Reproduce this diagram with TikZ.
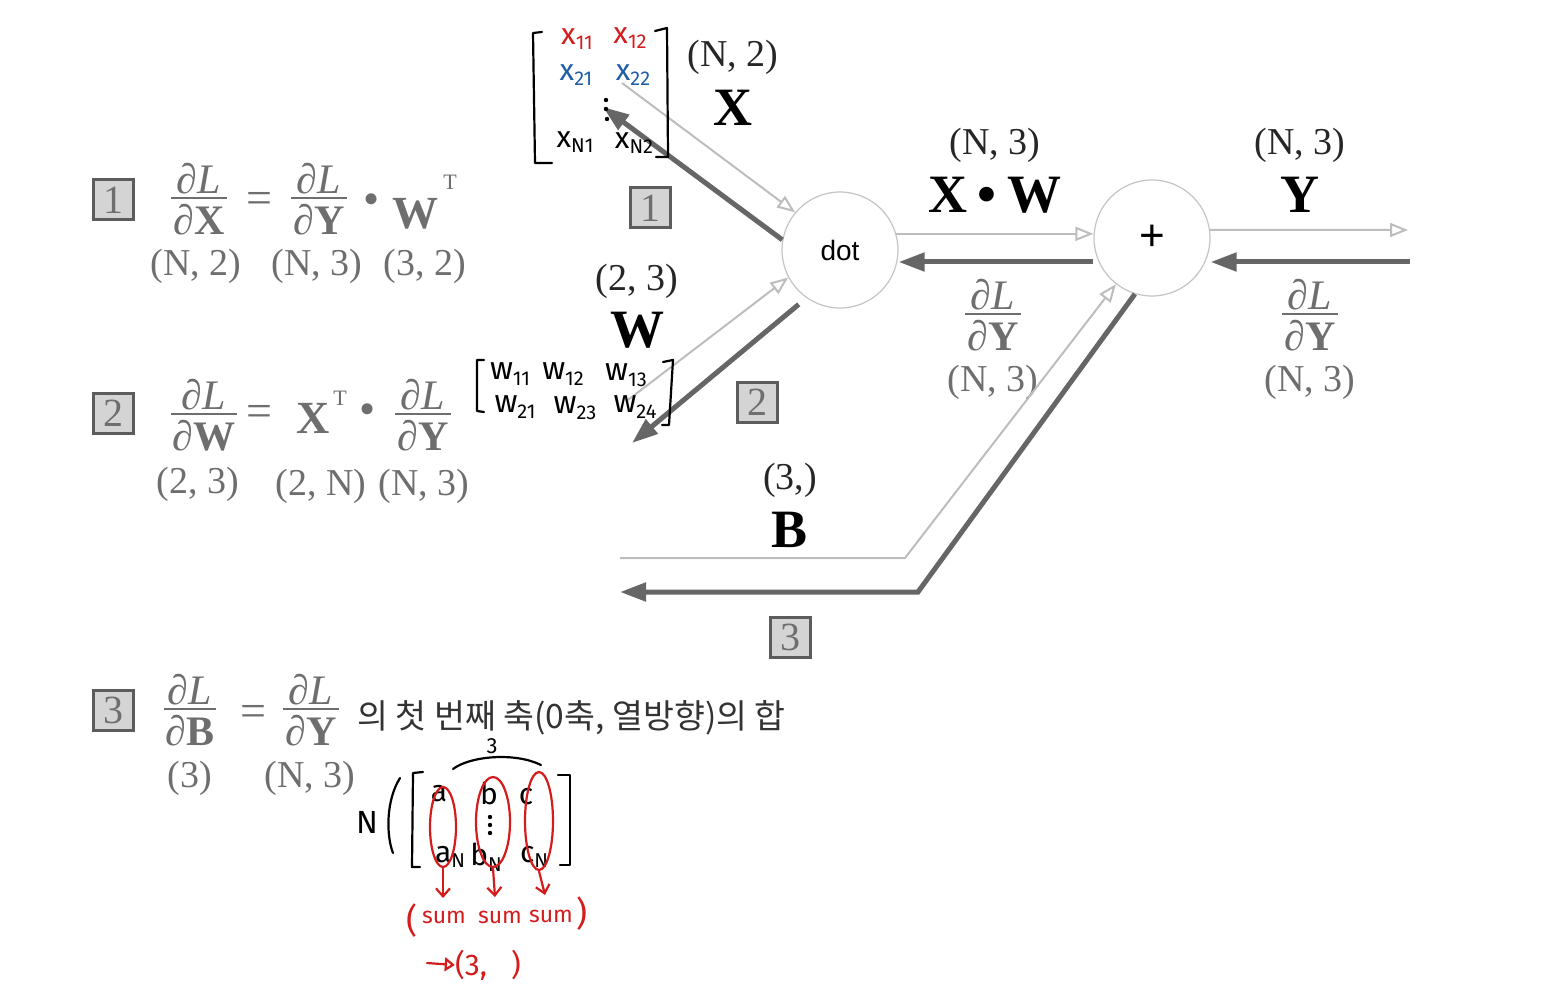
\documentclass[tikz,border=0pt]{standalone}
\usepackage{fontspec}
\setmainfont{Liberation Serif}
\newfontfamily\kr{Noto Sans CJK KR}
\newfontfamily\hand{Fira Sans}
\newfontfamily\sansf{Liberation Sans}
\usetikzlibrary{arrows.meta,shapes.geometric,calc}
\definecolor{eqgray}{HTML}{6E6E6E}
\definecolor{fwdgray}{HTML}{BDBDBD}
\definecolor{bwdgray}{HTML}{666666}
\definecolor{circgray}{HTML}{C4C4C4}
\definecolor{boxfill}{HTML}{D4D4D4}
\definecolor{boxline}{HTML}{5C5C5C}
\definecolor{hred}{HTML}{D41C1C}
\definecolor{hblue}{HTML}{1F5DA6}
\setlength\arrayrulewidth{1.2pt}
\newcommand\frc[2]{\begin{tabular}{@{\hspace{1pt}}c@{\hspace{1pt}}}#1\\[-6pt]\hline #2\end{tabular}}
\newcommand\hsub[3]{#1\raisebox{-0.35ex}{\fontsize{#3}{#3}\selectfont #2}}
\begin{document}
\begin{tikzpicture}[x=0.5pt,y=-0.5pt,
  fwd/.style={draw=fwdgray, line width=1pt, -{Triangle[open, length=9pt, width=7pt, fill=white]}},
  bwd/.style={draw=bwdgray, line width=2.5pt, -{Triangle[length=13pt, width=9pt]}},
  gnode/.style={circle, draw=circgray, line width=0.6pt, minimum size=58pt, inner sep=0pt, fill=white},
  numbox/.style={draw=boxline, line width=1.5pt, fill=boxfill, minimum size=20pt, inner sep=0pt, text=eqgray, font=\fontsize{20}{20}\selectfont},
  lab/.style={font=\fontsize{19}{23}\selectfont, text=black!85},
  glab/.style={font=\fontsize{19}{23}\selectfont, text=eqgray},
  big/.style={font=\bfseries\fontsize{27}{32}\selectfont, text=black, inner sep=0pt},
  eqf/.style={font=\fontsize{21}{25}\selectfont, text=eqgray, inner sep=0pt},
  eqt/.style={font=\fontsize{23}{25}\selectfont, text=eqgray, inner sep=0pt},
  eqsup/.style={font=\fontsize{11}{12}\selectfont, text=eqgray, inner sep=0pt},
  eqlab/.style={font=\fontsize{19}{23}\selectfont, text=eqgray, inner sep=0pt},
  korean/.style={font=\kr\fontsize{16.8}{19}\selectfont, text=black!80, inner sep=0pt},
  hw/.style={line width=1.1pt, line cap=round, line join=round},
  hx/.style={font=\hand\fontsize{15}{17}\selectfont, inner sep=0pt},
  hwx/.style={font=\hand\fontsize{16}{18}\selectfont, inner sep=0pt},
  hred/.style={font=\hand\fontsize{11.5}{14}\selectfont, text=hred, inner sep=0pt},
  colring/.style={ellipse, draw=hred, line width=1.1pt, inner sep=0pt},
  redarrow/.style={hw, draw=hred, -{Straight Barb[length=4pt, width=7pt]}}
]
\useasboundingbox (0,0) rectangle (1548,1000);

% ---------------- graph nodes ----------------
\node[gnode] (dot) at (840,250) {\sansf\fontsize{14}{16}\selectfont dot};
\node[gnode] (plus) at (1152,238) {\sansf\fontsize{22}{24}\selectfont +};

% labels
\node[lab] (lN2) at (733,57) {(N, 2)};
\node[big] (lX) at (733,108) {X};
\node[lab] (lN3a) at (995,145) {(N, 3)};
\node[big] (lXW) at (995,195) {X\hspace{0.2em}\textbullet\hspace{0.2em}W};
\node[lab] (lN3b) at (1300,145) {(N, 3)};
\node[big] (lY) at (1300,195) {Y};
\node[lab] (l23) at (637,281) {(2, 3)};
\node[big] (lW) at (637,330) {W};
\node[lab] (l3) at (790,480) {(3,)};
\node[big] (lB) at (790,530) {B};
\node[eqf] (gf1) at (993,320) {\frc{∂\textit{L}}{∂\textbf{Y}}};
\node[glab] (gd1) at (993,382) {(N, 3)};
\node[eqf] (gf2) at (1310,320) {\frc{∂\textit{L}}{∂\textbf{Y}}};
\node[glab] (gd2) at (1310,382) {(N, 3)};
\node[numbox] (gb1) at (650,208) {1};
\node[numbox] (gb2) at (757,402) {2};
\node[numbox] (gb3) at (790,637) {3};

% free ends
\coordinate (xsrc) at (622,83);
\coordinate (xgt) at (603,107);
\coordinate (wsrc) at (628,400);
\coordinate (wgt) at (632,443);
\coordinate (yend) at (1408,230);
\coordinate (ygrad) at (1410,262);
\coordinate (bsrc) at (620,558);
\coordinate (bk1) at (905,558);
\coordinate (bk2) at (918,592);
\coordinate (bgt) at (620,592);

% connectors
\draw[fwd] (xsrc) -- (dot.140);
\draw[bwd] (dot.170) -- (xgt);
\draw[fwd] (wsrc) -- (dot.208);
\draw[bwd, shorten <=5pt] (dot.235) -- (wgt);
\draw[fwd] (dot.16) -- (dot.16 -| plus.west);
\draw[bwd] (plus.west |- ygrad) -- (dot.east |- ygrad);
\draw[fwd] (plus.8) -- (yend);
\draw[bwd] (ygrad) -- (plus.east |- ygrad);
\draw[fwd] (bsrc) -- (bk1) -- (plus.232);
\draw[bwd] (plus.253) -- (bk2) -- (bgt);

% ---------------- left equations ----------------
\node[numbox] (b1) at (113,200) {1};
\node[eqf] (f1a) at (199,204) {\frc{∂\textit{L}}{∂\textbf{X}}};
\node[eqt] (e1) at (259,203) {=};
\node[eqf] (f1b) at (319,204) {\frc{∂\textit{L}}{∂\textbf{Y}}};
\node[eqt] (m1) at (372,204) {\textbullet};
\node[eqt, anchor=base] (w1) at (415,229) {\textbf{W}};
\node[eqsup] (t1) at (450,182) {T};
\node[eqlab] (d1a) at (196,266) {(N, 2)};
\node[eqlab] (d1b) at (317,266) {(N, 3)};
\node[eqlab] (d1c) at (425,266) {(3, 2)};

\node[numbox] (b2) at (113,413) {2};
\node[eqf] (f2a) at (204,420) {\frc{∂\textit{L}}{∂\textbf{W}}};
\node[eqt] (e2) at (259,416) {=};
\node[eqt, anchor=base] (x2) at (313,433) {\textbf{X}};
\node[eqsup] (t2) at (340,398) {T};
\node[eqt] (m2) at (368,414) {\textbullet};
\node[eqf] (f2b) at (423,420) {\frc{∂\textit{L}}{∂\textbf{Y}}};
\node[eqlab] (d2a) at (198,484) {(2, 3)};
\node[eqlab] (d2b) at (321,486) {(2, N)};
\node[eqlab] (d2c) at (424,486) {(N, 3)};

\node[numbox] (b3) at (113,710) {3};
\node[eqf] (f3a) at (190,715) {\frc{∂\textit{L}}{∂\textbf{B}}};
\node[eqt] (e3) at (253,716) {=};
\node[eqf] (f3b) at (311,715) {\frc{∂\textit{L}}{∂\textbf{Y}}};
\node[korean, anchor=west] (ko) at (357,718) {의 첫 번째 축(0축, 열방향)의 합};
\node[eqlab] (d3a) at (190,778) {(3)};
\node[eqlab] (d3b) at (310,778) {(N, 3)};

% ---------------- handwritten: X matrix ----------------
\draw[hw] (542,32) -- (533,33) -- (535,163) -- (552,163);
\draw[hw] (655,31) -- (667,28) -- (668,157) -- (656,157);
\node[hx, text=hred] (x11) at (577,39) {\hsub{x}{11}{10}};
\node[hx, text=hred] (x12) at (630,38) {\hsub{x}{12}{10}};
\node[hx, text=hblue] (x21) at (576,75) {\hsub{x}{21}{10}};
\node[hx, text=hblue] (x22) at (633,75) {\hsub{x}{22}{10}};
\fill (606,100) circle (1.1pt) (606,109) circle (1.1pt) (607,119) circle (1.1pt);
\node[hx] (xn1) at (575,142) {\hsub{x}{N1}{10}};
\node[hx] (xn2) at (634,143) {\hsub{x}{N2}{10}};

% ---------------- handwritten: W matrix ----------------
\draw[hw] (484,360) -- (477,360) -- (477,411) -- (484,412);
\draw[hw] (663,362) -- (673,360) -- (669,425) -- (662,425);
\node[hwx] (w11) at (510,374) {\hsub{w}{11}{10}};
\node[hwx] (w12) at (563,374) {\hsub{w}{12}{10}};
\node[hwx] (w13) at (626,375) {\hsub{w}{13}{10}};
\node[hwx] (w21) at (515,407) {\hsub{w}{21}{10}};
\node[hwx] (w23) at (575,408) {\hsub{w}{23}{10}};
\node[hwx] (w24) at (635,407) {\hsub{w}{24}{10}};

% ---------------- handwritten: bias sum ----------------
\node[hx, font=\hand\fontsize{11}{12}\selectfont] (three) at (492,746) {3};
\draw[hw] (453,769) .. controls (470,756) and (515,752) .. (541,765);
\node[hx, font=\hand\fontsize{16}{18}\selectfont] (nn) at (367,822) {N};
\draw[hw] (400,778) .. controls (386,800) and (386,835) .. (393,853);
\draw[hw] (423,772) -- (413,773) -- (412,867) -- (420,867);
\draw[hw] (558,775) -- (570,775) -- (570,865) -- (560,865);
\node[hx] (ma) at (439,794) {a};
\node[hx] (mb) at (489,793) {b};
\node[hx] (mc) at (526,797) {c};
\fill (490,817) circle (1.1pt) (490,825) circle (1.1pt) (490,833) circle (1.1pt);
\node[hx] (man) at (450,857) {\hsub{a}{N}{10}};
\node[hx] (mbn) at (486,857) {\hsub{b}{N}{10}};
\node[hx] (mcn) at (534,857) {\hsub{c}{N}{10}};
\node[colring, minimum width=13pt, minimum height=40pt] (r1) at (443,827) {};
\node[colring, minimum width=17pt, minimum height=45pt] (r2) at (493,822) {};
\node[colring, minimum width=14pt, minimum height=49pt] (r3) at (539,821) {};
\coordinate (s1top) at (443,898);
\coordinate (s2top) at (495,897);
\coordinate (s3top) at (545,895);
\draw[redarrow] (r1.south) -- (s1top);
\draw[redarrow] (r2.south) -- (s2top);
\draw[redarrow] (r3.south) -- (s3top);
\node[hred, font=\hand\fontsize{17}{19}\selectfont] (pl) at (412,921) {(};
\node[hred] (sum1) at (444,917) {sum};
\node[hred] (sum2) at (500,917) {sum};
\node[hred] (sum3) at (551,916) {sum};
\node[hred, font=\hand\fontsize{17}{19}\selectfont] (pr) at (582,914) {)};
\coordinate (ra0) at (427,963);
\node[hred, font=\hand\fontsize{15}{17}\selectfont] (res) at (488,965) {(3,\hspace{0.8em})};
\draw[hw, draw=hred, -{Triangle[open, length=5pt, width=7pt]}] (ra0) -- (res.west);
\end{tikzpicture}
\end{document}
